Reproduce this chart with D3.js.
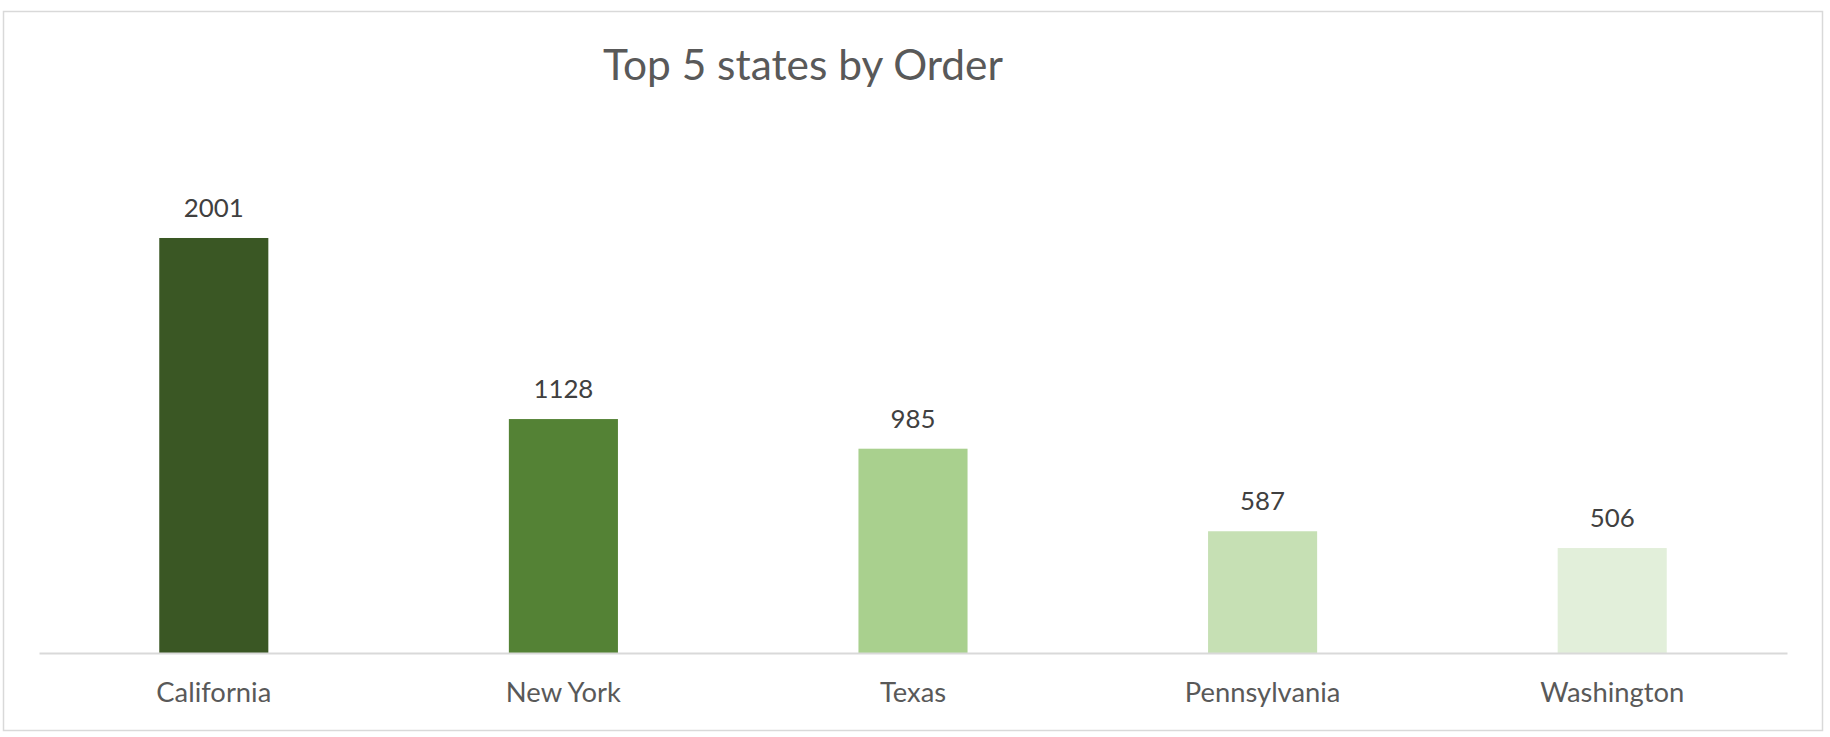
<!DOCTYPE html>
<html>
<head>
<meta charset="utf-8">
<script src="https://cdn.jsdelivr.net/npm/d3@7"></script>
<style>
  html, body { margin: 0; padding: 0; background: #fff; }
  svg { display: block; }
</style>
</head>
<body>
<svg id="chart" width="1830" height="737"></svg>
<script>
const states = ["California", "New York", "Texas", "Pennsylvania", "Washington"];
const orders = [2001, 1128, 985, 587, 506];
const barColors = ["#3a5724", "#548235", "#a9d08e", "#c6e0b4", "#e2efda"];
const titleText = "Top 5 states by Order";

const W = 1830, H = 737;
const FONT = "Lato, 'Open Sans', sans-serif";
const svg = d3.select("#chart");

// chart border
svg.append("rect")
  .attr("x", 3.5).attr("y", 11.5)
  .attr("width", 1819).attr("height", 719)
  .attr("fill", "#fff").attr("stroke", "#d9d9d9").attr("stroke-width", 1.5);

const x = d3.scaleBand().domain(states).range([39, 1787]).paddingInner(0.688).paddingOuter(0.344);
const y = d3.scaleLinear().domain([0, 2500]).range([653, 134.5]);

// fit text width helper
function fit(sel, target, base) {
  sel.attr("font-size", base);
  const w = sel.node().getComputedTextLength();
  sel.attr("font-size", base * target / w);
}

// bars
svg.append("g").selectAll("rect")
  .data(states)
  .join("rect")
  .attr("x", d => x(d))
  .attr("y", (d, i) => y(orders[i]))
  .attr("width", x.bandwidth())
  .attr("height", (d, i) => y(0) - y(orders[i]))
  .attr("fill", (d, i) => barColors[i]);

// x axis
const xAxis = svg.append("g")
  .attr("transform", `translate(0,${y(0)})`)
  .call(d3.axisBottom(x).tickSize(0).tickPadding(0));
xAxis.select(".domain").attr("stroke", "#d9d9d9").attr("stroke-width", 2);
xAxis.selectAll(".tick text")
  .attr("font-family", FONT)
  .attr("fill", "#595959")
  .attr("dy", 0)
  .attr("y", 49);
const calib = xAxis.selectAll(".tick text").filter(d => d === "California");
calib.attr("font-size", 20);
const wc = calib.node().getComputedTextLength();
xAxis.selectAll(".tick text").attr("font-size", 20 * 115 / wc);
xAxis.attr("font-family", null).attr("font-size", null);

// value labels
const vl = svg.append("g").selectAll("text")
  .data(states)
  .join("text")
  .attr("x", d => x(d) + x.bandwidth() / 2)
  .attr("y", (d, i) => y(orders[i]) - 21)
  .attr("text-anchor", "middle")
  .attr("font-family", FONT)
  .attr("fill", "#404040")
  .text((d, i) => orders[i]);
const first = vl.filter((d, i) => i === 0);
first.attr("font-size", 20);
const wv = first.node().getComputedTextLength();
vl.attr("font-size", 20 * 60 / wv);

// title
const title = svg.append("text")
  .attr("x", 803).attr("y", 80)
  .attr("text-anchor", "middle")
  .attr("font-family", FONT)
  .attr("fill", "#595959")
  .text(titleText);
fit(title, 400, 36);
</script>
</body>
</html>
